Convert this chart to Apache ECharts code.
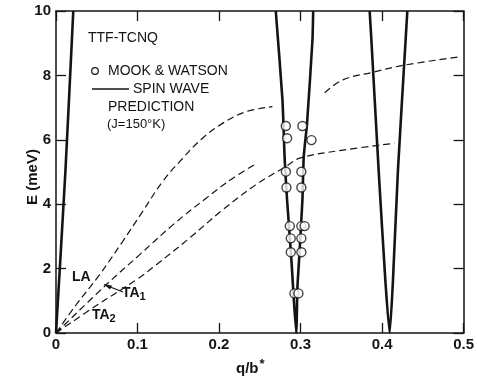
<!DOCTYPE html>
<html>
<head>
<meta charset="utf-8">
<script src="https://cdn.jsdelivr.net/npm/echarts@6/dist/echarts.min.js"></script>
<style>
html,body{margin:0;padding:0;background:#fff;}
#c{width:477px;height:381px;}
</style>
</head>
<body>
<div id="c"></div>
<script>
// ---- data ----
const xTicks = [0, 0.1, 0.2, 0.3, 0.4, 0.5];
const yTicks = [0, 2, 4, 6, 8, 10];

// spin wave prediction (solid)
const spin0 = [[0,0],[0.0115,5],[0.0212,10]];
const spin1 = [[0.2696,10],[0.2778,7.24],[0.2806,5.37],[0.2835,4.13],[0.2888,2.27],[0.2908,1.43],[0.2947,0],
               [0.2962,1.43],[0.2982,2.27],[0.3023,4.13],[0.3039,5.47],[0.3080,6.52],[0.3146,9.10],[0.3155,10]];
const spin2 = [[0.3848,10],[0.3869,9.10],[0.3958,5.06],[0.4040,1.65],[0.4093,0],
               [0.4134,1.65],[0.4195,5.06],[0.4289,9.10],[0.4310,10]];

// phonon branches (dashed)
const laA = [[0,0],[0.0245,0.87],[0.0531,1.80],[0.0817,2.84],[0.1062,3.77],[0.1307,4.70],[0.1552,5.42],
             [0.1797,6.05],[0.2043,6.51],[0.2328,6.87],[0.2655,7.03]];
const laB = [[0.3297,7.46],[0.352,7.86],[0.389,8.10],[0.4277,8.32],[0.497,8.58]];
const ta1 = [[0,0],[0.0613,1.49],[0.1021,2.42],[0.143,3.35],[0.1838,4.18],[0.2165,4.80],[0.243,5.22]];
const ta2 = [[0,0],[0.05,0.86],[0.1,1.68],[0.1225,2.11],[0.1634,2.94],[0.2043,3.82],[0.245,4.60],
             [0.282,5.17],[0.299,5.43],[0.352,5.68],[0.4154,5.89]];

// Mook & Watson measurements
const mookWatson = [[0.2819,6.43],[0.3023,6.43],[0.2835,6.05],[0.3134,5.99],[0.282,5.01],[0.301,5.01],
                    [0.2827,4.52],[0.301,4.52],[0.2868,3.32],[0.301,3.32],[0.305,3.32],[0.288,2.94],
                    [0.301,2.94],[0.288,2.51],[0.301,2.51],[0.2925,1.23],[0.2974,1.23]];

const FONT = 'Liberation Sans, Arial, sans-serif';
const INK = '#141414';

const chart = echarts.init(document.getElementById('c'), null, {renderer: 'canvas'});

function solid(d) {
  return {type:'line', data:d, showSymbol:false, symbol:'none', smooth:0.2,
          lineStyle:{color:INK, width:2.6}, z:3, silent:true};
}
function dashed(d) {
  return {type:'line', data:d, showSymbol:false, symbol:'none', smooth:0.4,
          lineStyle:{color:INK, width:1.2, type:[7,4]}, z:2, silent:true};
}

const axisCommon = {
  type:'value', splitLine:{show:false},
  axisLine:{show:true, onZero:false, lineStyle:{color:INK, width:1.5}},
  axisTick:{show:true, inside:true, length:10, lineStyle:{color:INK, width:1.3}}
};

chart.setOption({
  animation:false,
  backgroundColor:'#fff',
  grid:{left:56, right:13, top:11, bottom:48, containLabel:false},
  xAxis:[
    Object.assign({}, axisCommon, {min:0, max:0.5, interval:0.1, position:'bottom',
      axisLabel:{show:true, color:INK, fontFamily:FONT, fontSize:15, fontWeight:'bold', margin:4,
        formatter:v => String(+v.toFixed(1))}}),
    Object.assign({}, axisCommon, {min:0, max:0.5, interval:0.1, position:'top', axisLabel:{show:false}})
  ],
  yAxis:[
    Object.assign({}, axisCommon, {min:0, max:10, interval:2, position:'left',
      axisLabel:{show:true, color:INK, fontFamily:FONT, fontSize:15, fontWeight:'bold', margin:5}}),
    Object.assign({}, axisCommon, {min:0, max:10, interval:2, position:'right', axisLabel:{show:false}})
  ],
  series:[
    solid(spin0), solid(spin1), solid(spin2),
    dashed(laA), dashed(laB), dashed(ta1), dashed(ta2),
    {type:'scatter', data:mookWatson, symbol:'circle', symbolSize:9, z:5, silent:true,
     itemStyle:{color:'#fff', borderColor:INK, borderWidth:1.4}}
  ],
  graphic:[
    {type:'text', left:88, top:31, style:{text:'TTF-TCNQ', font:'14px '+FONT, fill:INK}},
    {type:'circle', shape:{cx:95, cy:71, r:3.3}, style:{fill:'#fff', stroke:INK, lineWidth:1.2}},
    {type:'text', left:108, top:64, style:{text:'MOOK & WATSON', font:'14px '+FONT, fill:INK}},
    {type:'line', shape:{x1:92, y1:89, x2:129, y2:89}, style:{stroke:INK, lineWidth:1.3}},
    {type:'text', left:133, top:82, style:{text:'SPIN WAVE', font:'14px '+FONT, fill:INK}},
    {type:'text', left:108, top:100, style:{text:'PREDICTION', font:'14px '+FONT, fill:INK}},
    {type:'text', left:107, top:118, style:{text:'(J=150°K)', font:'13px '+FONT, fill:INK}},
    {type:'text', left:72, top:270, style:{text:'LA', font:'bold 14px '+FONT, fill:INK}},
    {type:'text', left:122, top:286, style:{text:'{a|TA}{s|1}', rich:{
      a:{font:'bold 14px '+FONT, fill:INK}, s:{font:'bold 11px '+FONT, fill:INK, padding:[8,0,0,0]}}}},
    {type:'text', left:92, top:308, style:{text:'{a|TA}{s|2}', rich:{
      a:{font:'bold 14px '+FONT, fill:INK}, s:{font:'bold 11px '+FONT, fill:INK, padding:[8,0,0,0]}}}},
    {type:'line', shape:{x1:104, y1:284.5, x2:123, y2:292}, style:{stroke:INK, lineWidth:1.3}},
    {type:'polygon', shape:{points:[[104,284.5],[112,285.5],[110,289.5]]}, style:{fill:INK}},
    {type:'text', x:33, y:177, rotation:Math.PI/2,
     style:{text:'E (meV)', font:'bold 15px '+FONT, fill:INK, align:'center', verticalAlign:'middle'}},
    {type:'text', left:236, top:358, style:{text:'{a|q/b}{s|*}', rich:{
      a:{font:'bold 15px '+FONT, fill:INK}, s:{font:'bold 13px '+FONT, fill:INK, padding:[0,0,8,1]}}}}
  ]
});
</script>
</body>
</html>
